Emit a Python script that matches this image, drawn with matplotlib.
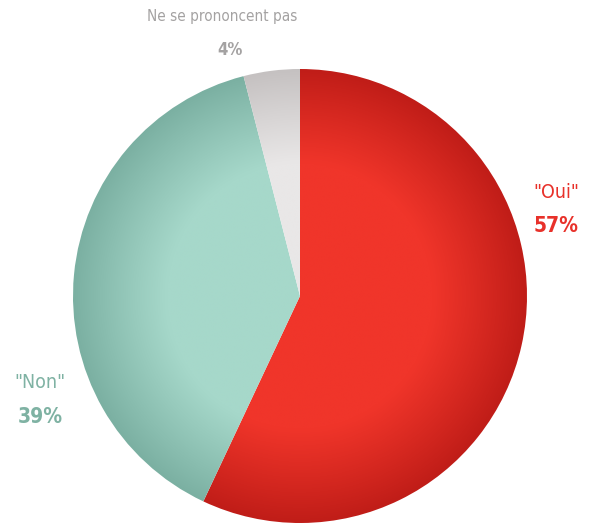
import numpy as np
import matplotlib; matplotlib.use("Agg")
import matplotlib.pyplot as plt
from matplotlib.colors import LinearSegmentedColormap

plt.rcParams["font.family"] = ["DejaVu Sans"]
plt.rcParams["font.stretch"] = "condensed"

labels = ['"Oui"', '"Non"', "Ne se prononcent pas"]
values = [57, 39, 4]
# light (centre) / dark (rim) for each slice
light = ["#f0352a", "#a6d8ca", "#e9e7e7"]
dark = ["#c01d18", "#7bb0a2", "#c5c1c1"]
text_cols = ["#e8312a", "#7fb2a3", "#a4a2a2"]

W, H = 590, 524
cx, cy, R = 300, H - 296, 227

fig = plt.figure(figsize=(W / 100, H / 100), dpi=100)
ax = fig.add_axes([0, 0, 1, 1])
wedges, _ = ax.pie(values, startangle=90, counterclock=False, center=(cx, cy), radius=R,
                   wedgeprops=dict(linewidth=0))
ax.set_xlim(0, W); ax.set_ylim(0, H); ax.set_aspect("equal"); ax.axis("off")

# radial shading inside each slice
gx, gy = np.meshgrid(np.linspace(cx - R, cx + R, 500), np.linspace(cy - R, cy + R, 500))
rr = np.clip(np.hypot(gx - cx, gy - cy) / R, 0, 1)
shade = rr ** 1.3
for w, lc, dc in zip(wedges, light, dark):
    w.set_facecolor("none")
    cmap = LinearSegmentedColormap.from_list("g", [lc, lc, dc])
    im = ax.imshow(shade, cmap=cmap, vmin=0, vmax=1, origin="lower",
                   extent=(cx - R, cx + R, cy - R, cy + R), zorder=1)
    im.set_clip_path(w)

ax.text(556, H - 193, labels[0], color=text_cols[0], fontsize=14, ha="center", va="center")
ax.text(556, H - 226, f"{values[0]}%", color=text_cols[0], fontsize=15, fontweight="bold",
        ha="center", va="center")
ax.text(40, H - 383, labels[1], color=text_cols[1], fontsize=14, ha="center", va="center")
ax.text(40, H - 417, f"{values[1]}%", color=text_cols[1], fontsize=15, fontweight="bold",
        ha="center", va="center")
ax.text(222, H - 17, labels[2], color=text_cols[2], fontsize=11, ha="center", va="center")
ax.text(230, H - 50, f"{values[2]}%", color=text_cols[2], fontsize=12, fontweight="bold",
        ha="center", va="center")

ax.set_xlim(0, W); ax.set_ylim(0, H)
fig.savefig("out.png", dpi=100)
